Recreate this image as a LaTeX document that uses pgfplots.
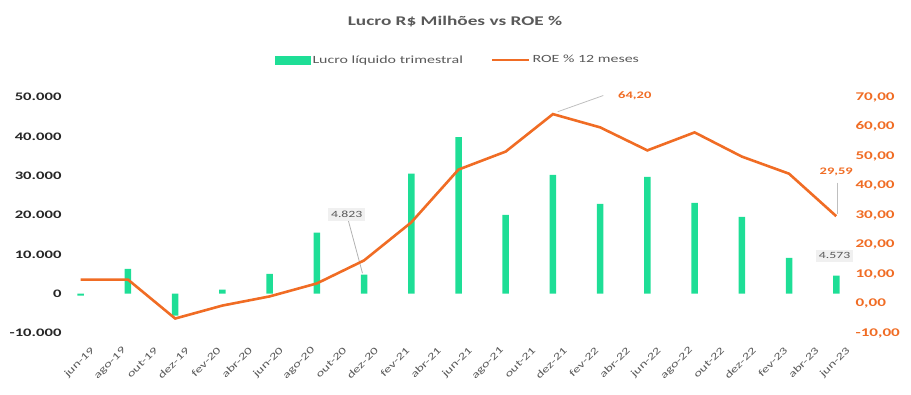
\documentclass[border=0pt]{standalone}
\usepackage{pgfplots}
\pgfplotsset{compat=1.18}
\usepackage{fontspec}
\setmainfont{Carlito}[FakeStretch=1.45]
\definecolor{barg}{RGB}{30,222,150}
\definecolor{roe}{RGB}{240,108,36}
\definecolor{txt}{RGB}{89,89,89}
\pgfplotsset{
  roeleg/.style={legend image code/.code={\draw[##1] (0pt,0pt) -- (37pt,0pt);}},
  barleg/.style={legend image code/.code={\fill[barg] (0pt,-4pt) rectangle (35pt,4pt);}}}
\begin{document}
\begin{tikzpicture}
\useasboundingbox (0,0) rectangle (911pt,395pt);
\node[font=\fontsize{13.3}{15}\selectfont\bfseries, text=txt] at (455pt,373pt) {Lucro R\$ Milhões vs ROE \%};
\begin{axis}[
  at={(65pt,62pt)}, anchor=south west, scale only axis,
  width=787pt, height=236pt,
  xmin=-1, xmax=49, ymin=-10000, ymax=50000,
  axis line style={draw=none}, tick style={draw=none},
  clip=false, scaled y ticks=false,
  xtick={0,2,...,48},
  xticklabels={jun-19,ago-19,out-19,dez-19,fev-20,abr-20,jun-20,ago-20,out-20,dez-20,fev-21,abr-21,jun-21,ago-21,out-21,dez-21,fev-22,abr-22,jun-22,ago-22,out-22,dez-22,fev-23,abr-23,jun-23},
  xticklabel style={rotate=45, anchor=east, font=\fontsize{10}{12}\selectfont, text=txt, yshift=-20pt, xshift=-2pt, inner sep=0.5pt},
  ytick={-10000,0,10000,20000,30000,40000,50000},
  yticklabels={{-10.000},{0},{10.000},{20.000},{30.000},{40.000},{50.000}},
  yticklabel style={font=\fontsize{11.5}{13}\selectfont\bfseries, text=black!85},
]
\addplot[ybar, bar width=6.5pt, fill=barg, draw=none] coordinates {
(0,-500) (3,6300) (6,-5600) (9,1000) (12,5000) (15,15500) (18,4823) (21,30500) (24,39800) (27,20000) (30,30200) (33,22800) (36,29700) (39,23100) (42,19500) (45,9100) (48,4573)};
\draw[gray!60, line width=0.8pt] (axis cs:17.0,18600) -- (axis cs:17.9,5200);
\node[fill=gray!12, text=txt, font=\fontsize{9.5}{11}\selectfont, inner sep=3pt] at (axis cs:16.9,20100) {4.823};
\node[fill=gray!12, text=txt, font=\fontsize{9.5}{11}\selectfont, inner sep=3pt] at (axis cs:47.9,9600) {4.573};
\end{axis}
\begin{axis}[
  at={(65pt,62pt)}, anchor=south west, scale only axis,
  width=787pt, height=236pt,
  xmin=-1, xmax=49, ymin=-10, ymax=70,
  axis x line=none, axis y line*=right,
  axis line style={draw=none}, tick style={draw=none},
  clip=false,
  ytick={-10,0,...,70},
  yticklabels={{-10,00},{0,00},{10,00},{20,00},{30,00},{40,00},{50,00},{60,00},{70,00}},
  yticklabel style={font=\fontsize{11.8}{13}\selectfont\bfseries, text=roe},
  legend style={at={(0.4994,1.157)}, anchor=center, draw=none, fill=none,
    font=\fontsize{11}{13}\selectfont, text=txt, legend columns=2,
    /tikz/every even column/.append style={column sep=26pt}},
]
\addlegendimage{barleg}
\addlegendentry{Lucro líquido trimestral}
\addplot[color=roe, line width=2.6pt, mark=none, roeleg] coordinates {
(0,8.1) (3,8.1) (6,-5.1) (9,-0.7) (12,2.4) (15,6.8) (18,14.6) (21,27.5) (24,45.4) (27,51.5) (30,64.2) (33,59.7) (36,51.9) (39,58) (42,49.8) (45,44) (48,29.59)};
\addlegendentry{ROE \% 12 meses}
\draw[gray!50, line width=0.8pt] (axis cs:30.3,65) -- (axis cs:33.2,70.5);
\node[text=roe, font=\fontsize{10}{12}\selectfont\bfseries] at (axis cs:35.2,70.5) {64,20};
\draw[gray!50, line width=0.8pt] (axis cs:48.05,41.0) -- (axis cs:48.05,30.5);
\node[text=roe, font=\fontsize{10}{12}\selectfont\bfseries] at (axis cs:48.0,44.7) {29,59};
\end{axis}
\end{tikzpicture}
\end{document}
